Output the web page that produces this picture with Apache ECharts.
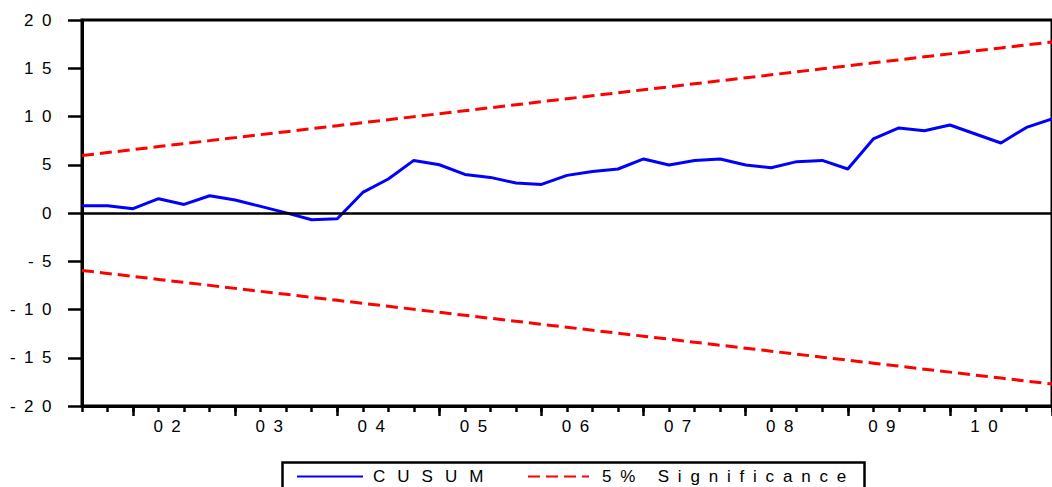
<!DOCTYPE html>
<html>
<head>
<meta charset="utf-8">
<script src="https://cdn.jsdelivr.net/npm/echarts@6/dist/echarts.min.js"></script>
<style>
html,body{margin:0;padding:0;background:#fff;}
#chart{width:1052px;height:487px;}
</style>
</head>
<body>
<div id="chart"></div>
<script>
// ---- data ----
const quarters = [
  '2001Q3','2001Q4',
  '2002Q1','2002Q2','2002Q3','2002Q4',
  '2003Q1','2003Q2','2003Q3','2003Q4',
  '2004Q1','2004Q2','2004Q3','2004Q4',
  '2005Q1','2005Q2','2005Q3','2005Q4',
  '2006Q1','2006Q2','2006Q3','2006Q4',
  '2007Q1','2007Q2','2007Q3','2007Q4',
  '2008Q1','2008Q2','2008Q3','2008Q4',
  '2009Q1','2009Q2','2009Q3','2009Q4',
  '2010Q1','2010Q2','2010Q3','2010Q4',
  '2011Q1'
];
const cusum = [
  0.76, 0.76,
  0.45, 1.48, 0.89, 1.79,
  1.35, 0.69, 0.01, -0.70,
  -0.59, 2.13, 3.52, 5.45,
  5.00, 4.00, 3.69, 3.11,
  2.96, 3.90, 4.31, 4.56,
  5.60, 4.97, 5.45, 5.60,
  4.97, 4.69, 5.32, 5.45,
  4.56, 7.67, 8.81, 8.53,
  9.12, 8.19, 7.25, 8.87,
  9.76
];
const upper5 = [
  5.95, 6.26,
  6.57, 6.88, 7.19, 7.50,
  7.81, 8.12, 8.43, 8.74,
  9.05, 9.36, 9.67, 9.98,
  10.29, 10.60, 10.91, 11.22,
  11.53, 11.84, 12.15, 12.46,
  12.77, 13.08, 13.39, 13.70,
  14.01, 14.32, 14.63, 14.94,
  15.25, 15.56, 15.87, 16.18,
  16.49, 16.80, 17.11, 17.42,
  17.73
];
const lower5 = [
  -5.95, -6.26,
  -6.57, -6.88, -7.19, -7.50,
  -7.81, -8.12, -8.43, -8.74,
  -9.05, -9.36, -9.67, -9.98,
  -10.29, -10.60, -10.91, -11.22,
  -11.53, -11.84, -12.15, -12.46,
  -12.77, -13.08, -13.39, -13.70,
  -14.01, -14.32, -14.63, -14.94,
  -15.25, -15.56, -15.87, -16.18,
  -16.49, -16.80, -17.11, -17.42,
  -17.73
];
const yearLabels = ['02','03','04','05','06','07','08','09','10'];
const seriesNames = ['CUSUM', '5% Significance'];

// ---- derived axis helpers ----
const N = quarters.length;
const q1Idx = quarters.map((q, i) => q.endsWith('Q1') ? i : -1).filter(i => i >= 0);
const labelPos = yearLabels.map(y => quarters.indexOf('20' + y + 'Q1') + 1.5);
const labelMap = {};
labelPos.forEach((p, k) => { labelMap[p] = yearLabels[k]; });

const FONT = 'Liberation Sans, Arial, sans-serif';
const FS = 17;
const chart = echarts.init(document.getElementById('chart'), null, {renderer: 'svg'});

const hiddenSymbol = {color: 'rgba(0,0,0,0)', borderWidth: 0, opacity: 0};

chart.setOption({
  animation: false,
  backgroundColor: '#ffffff',
  grid: {
    left: 82, top: 20, width: 974, height: 386,
    show: true, borderColor: '#000', borderWidth: 3, backgroundColor: 'transparent'
  },
  xAxis: [
    {
      type: 'category', data: quarters, boundaryGap: false,
      position: 'bottom',
      axisLine: {show: true, onZero: false, lineStyle: {color: '#000', width: 3}},
      axisTick: {show: true, interval: 0, length: 6, lineStyle: {color: '#000', width: 2.5}},
      axisLabel: {show: false},
      splitLine: {show: false}
    },
    {
      type: 'value', min: 0, max: N - 1,
      position: 'bottom',
      axisLine: {show: false, onZero: false},
      axisTick: {show: true, customValues: q1Idx, length: 10, lineStyle: {color: '#000', width: 2.5}},
      axisLabel: {
        show: true, customValues: labelPos, margin: 12,
        fontSize: FS, color: '#000', fontFamily: FONT,
        formatter: v => labelMap[v] || ''
      },
      splitLine: {show: false}
    }
  ],
  yAxis: {
    type: 'value', min: -20, max: 20, interval: 5,
    axisLine: {show: true, onZero: false, lineStyle: {color: '#000', width: 3}},
    axisTick: {show: true, length: 14, lineStyle: {color: '#000', width: 2.5}},
    axisLabel: {fontSize: FS, color: '#000', fontFamily: FONT, margin: 22},
    splitLine: {show: false}
  },
  legend: [
    {
      data: [seriesNames[0]], left: 296, top: 468, padding: 0,
      itemWidth: 66, itemHeight: 14, selectedMode: false,
      itemStyle: hiddenSymbol,
      textStyle: {fontSize: FS, color: '#000', fontFamily: FONT, padding: [0, 0, 0, 5]}
    },
    {
      data: [seriesNames[1]], left: 527, top: 468, padding: 0,
      itemWidth: 61, itemHeight: 14, selectedMode: false,
      itemStyle: hiddenSymbol,
      textStyle: {fontSize: FS, color: '#000', fontFamily: FONT, padding: [0, 0, 0, 8]}
    }
  ],
  graphic: [
    {
      type: 'rect', left: 280, top: 460, silent: true,
      shape: {width: 582, height: 40},
      style: {fill: 'none', stroke: '#000', lineWidth: 2.5}
    }
  ],
  series: [
    {
      name: seriesNames[0], type: 'line', data: cusum,
      symbol: 'none', xAxisIndex: 0,
      lineStyle: {color: '#0000ff', width: 3},
      itemStyle: {color: '#0000ff'},
      markLine: {
        silent: true, symbol: ['none', 'none'], label: {show: false},
        lineStyle: {color: '#000', width: 2.5, type: 'solid'},
        data: [{yAxis: 0}]
      },
      z: 3
    },
    {
      name: seriesNames[1], type: 'line', data: upper5,
      symbol: 'none', xAxisIndex: 0,
      lineStyle: {color: '#ff0000', width: 3, type: [12, 6]},
      itemStyle: {color: '#ff0000'}
    },
    {
      name: seriesNames[1], type: 'line', data: lower5,
      symbol: 'none', xAxisIndex: 0,
      lineStyle: {color: '#ff0000', width: 3, type: [12, 6]},
      itemStyle: {color: '#ff0000'}
    }
  ]
});

// letter-spaced text, like the reference
const spacing = {'CUSUM': 12, '5% Significance': 8.8};
function applySpacing() {
  document.querySelectorAll('#chart svg text').forEach(t => {
    const s = spacing[t.textContent.trim()];
    t.style.letterSpacing = (s !== undefined ? s : 8.5) + 'px';
  });
}
chart.on('finished', applySpacing);
applySpacing();
requestAnimationFrame(() => { applySpacing(); requestAnimationFrame(applySpacing); });
setTimeout(applySpacing, 50);
</script>
</body>
</html>
